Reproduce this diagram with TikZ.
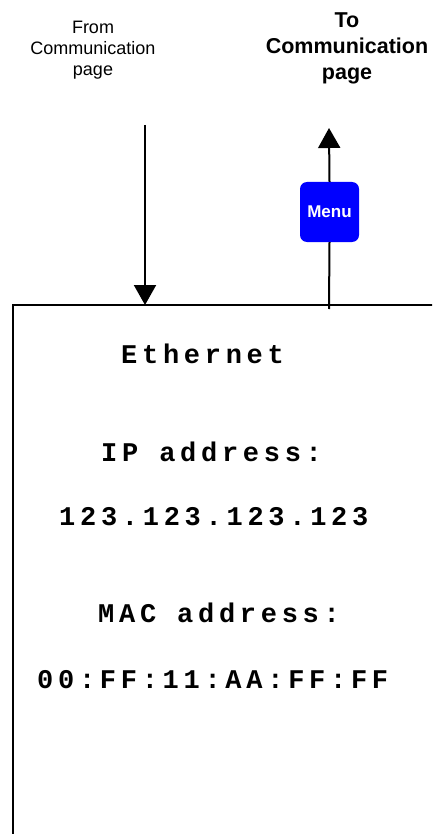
\documentclass[tikz,border=0pt]{standalone}
\usepackage{fontspec}
\setmainfont{Liberation Sans}
\newfontfamily\boxmono[LetterSpace=17.5]{Liberation Mono}
\usetikzlibrary{arrows.meta}
\definecolor{menublue}{RGB}{0,0,255}
\tikzset{
  fromtxt/.style={font=\fontsize{18}{21}\selectfont, inner sep=0pt, anchor=base},
  totxt/.style={font=\fontsize{21.5}{26}\selectfont\bfseries, inner sep=0pt, anchor=base},
  monotxt/.style={font=\fontsize{27}{30}\selectfont\boxmono\bfseries, inner sep=0pt, anchor=base west},
  flow/.style={line width=2pt, -{Triangle[width=22pt,length=20pt]}},
  plainline/.style={line width=2pt},
  menubtn/.style={fill=menublue, rounded corners=7pt, minimum width=59pt, minimum height=60pt,
    inner sep=0pt, text=white, font=\fontsize{17}{20}\selectfont\bfseries}
}
\begin{document}
\begin{tikzpicture}[x=1pt,y=-1pt]
\useasboundingbox (0,0) rectangle (432,834);
\clip (0,0) rectangle (432,834);
% labels at top
\node[fromtxt] (from1) at (93,34) {From};
\node[fromtxt] (from2) at (93,55) {Communication};
\node[fromtxt] (from3) at (93,76) {page};
\node[totxt] (to1) at (347,28) {To};
\node[totxt] (to2) at (347,54) {Communication};
\node[totxt] (to3) at (347,80) {page};
% screen box (extends beyond the picture)
\coordinate (boxTL) at (13,305);
\coordinate (boxTR) at (460,305);
\coordinate (boxBL) at (13,860);
\draw[plainline] (boxBL) -- (boxTL) -- (boxTR);
% incoming arrow
\coordinate (inStart) at (145,125);
\coordinate (inEnd) at (145,305);
\draw[flow] (inStart) -- (inEnd);
% menu button and outgoing arrow
\node[menubtn] (menu) at (329.5,212) {Menu};
\coordinate (outStart) at (329,309);
\coordinate (outEnd) at (329,128);
\draw[plainline] (outStart) -- (menu.south);
\draw[flow] (menu.north) -- (outEnd);
% screen texts
\node[monotxt] (eth) at (121,363) {Ethernet};
\node[monotxt] (ipl) at (101,461) {IP address:};
\node[monotxt] (ipv) at (59,525) {123.123.123.123};
\node[monotxt] (macl) at (98,622) {MAC address:};
\node[monotxt] (macv) at (37,688) {00:FF:11:AA:FF:FF};
\end{tikzpicture}
\end{document}
